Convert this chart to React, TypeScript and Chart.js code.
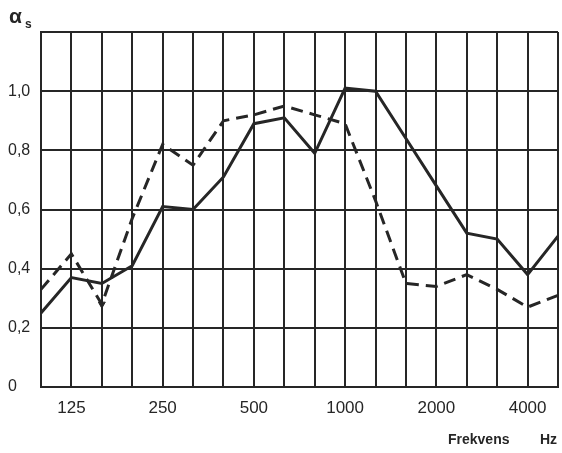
import React, { useEffect, useRef } from "react";
import { Chart, registerables } from "chart.js";

Chart.register(...registerables);

// Third-octave band centre frequencies (Hz)
const frequencies = [
  "100", "125", "160", "200", "250", "315", "400", "500", "630",
  "800", "1000", "1250", "1600", "2000", "2500", "3150", "4000", "5000",
];

// Bands that carry a printed label under the axis
const labelledBands = ["125", "250", "500", "1000", "2000", "4000"];

// Sound absorption coefficient, solid curve
const solidSeries = [
  0.25, 0.37, 0.35, 0.41, 0.61, 0.6, 0.71, 0.89, 0.91,
  0.79, 1.01, 1.0, 0.84, 0.68, 0.52, 0.5, 0.38, 0.51,
];

// Sound absorption coefficient, dashed curve
const dashedSeries = [
  0.33, 0.45, 0.28, 0.57, 0.82, 0.75, 0.9, 0.92, 0.95,
  0.92, 0.89, 0.63, 0.35, 0.34, 0.38, 0.33, 0.27, 0.31,
];

// Y tick labels for 0, 0.2, ... 1.2
const yTickLabels = ["0", "0,2", "0,4", "0,6", "0,8", "1,0", ""];

const INK = "#262626";
const FONT = '"Liberation Sans", Arial, sans-serif';

const annotations = {
  id: "axisAnnotations",
  afterDraw(chart: Chart) {
    const ctx = chart.ctx;
    ctx.save();
    ctx.fillStyle = INK;
    ctx.textBaseline = "alphabetic";
    ctx.font = `bold 21px ${FONT}`;
    ctx.fillText("α", 9, 23);
    ctx.font = `bold 12px ${FONT}`;
    ctx.fillText("s", 25, 28);
    ctx.font = `bold 14px ${FONT}`;
    ctx.fillText("Frekvens", 448, 444);
    ctx.fillText("Hz", 540, 444);
    ctx.restore();
  },
};

export default function App() {
  const canvasRef = useRef<HTMLCanvasElement | null>(null);

  useEffect(() => {
    document.body.style.margin = "0";
    const canvas = canvasRef.current;
    if (!canvas) return;

    const chart = new Chart(canvas, {
      type: "line",
      data: {
        labels: frequencies,
        datasets: [
          {
            data: solidSeries,
            borderColor: INK,
            borderWidth: 3,
            pointRadius: 0,
            tension: 0,
            fill: false,
          },
          {
            data: dashedSeries,
            borderColor: INK,
            borderWidth: 3,
            borderDash: [12, 7],
            tension: 0,
            fill: false,
            // small downward arrowhead at the 160 Hz dip
            pointRadius: frequencies.map((f) => (f === "160" ? 4 : 0)),
            pointStyle: "triangle",
            rotation: 180,
            pointBackgroundColor: INK,
            pointBorderColor: INK,
            pointBorderWidth: 1,
          },
        ],
      },
      options: {
        animation: false,
        responsive: false,
        devicePixelRatio: 1,
        layout: { padding: { top: 32, right: 4, left: 8, bottom: 0 } },
        plugins: {
          legend: { display: false },
          tooltip: { enabled: false },
        },
        scales: {
          x: {
            type: "category",
            offset: false,
            grid: { color: INK, lineWidth: 2, drawTicks: false },
            border: { color: INK, width: 2 },
            ticks: {
              autoSkip: false,
              maxRotation: 0,
              padding: 11,
              color: INK,
              font: { family: FONT, size: 17 },
              callback: (_v: any, i: number) =>
                labelledBands.includes(frequencies[i]) ? frequencies[i] : "",
            },
            afterFit: (s: any) => {
              s.height = 66;
              s.paddingLeft = 0;
              s.paddingRight = 0;
            },
          },
          y: {
            min: 0,
            max: 1.2,
            grid: { color: INK, lineWidth: 2, drawTicks: false },
            border: { color: INK, width: 2 },
            ticks: {
              stepSize: 0.2,
              crossAlign: "far",
              padding: 8,
              color: INK,
              font: { family: FONT, size: 16 },
              callback: (_v: any, i: number) => yTickLabels[i],
            },
            afterFit: (s: any) => {
              s.width = 33;
            },
          },
        },
      },
      plugins: [annotations],
    });

    return () => chart.destroy();
  }, []);

  return <canvas ref={canvasRef} width={562} height={453} />;
}
